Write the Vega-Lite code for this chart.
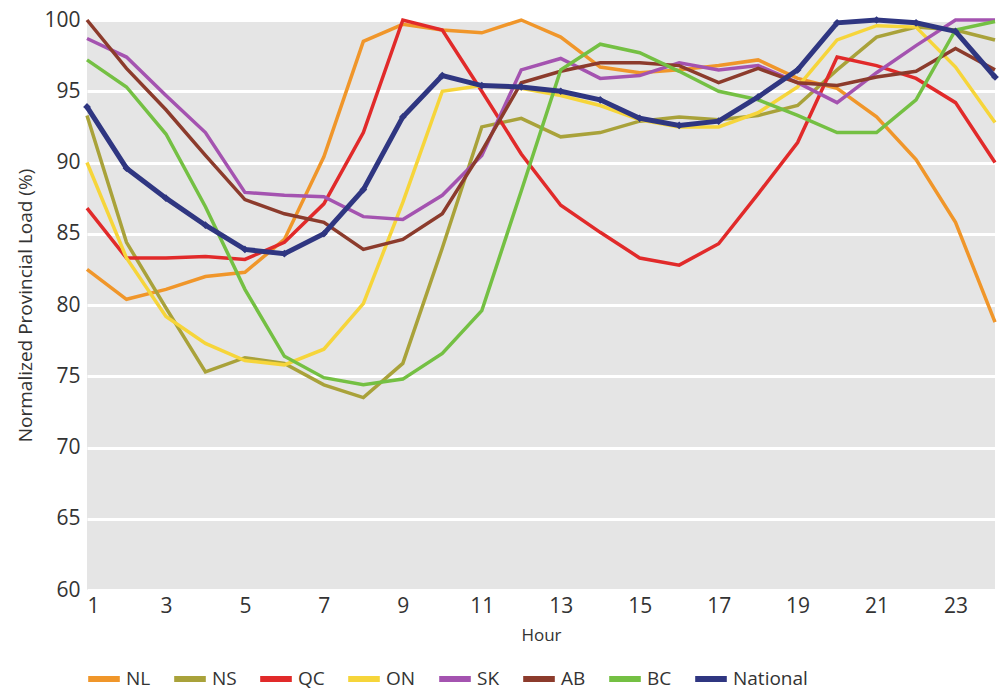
{
  "$schema": "https://vega.github.io/schema/vega-lite/v6.json",
  "width": 908,
  "height": 570,
  "autosize": {"type": "none"},
  "padding": {"left": 87, "top": 20, "right": 4, "bottom": 103},
  "background": "white",
  "config": {"view": {"fill": "#e5e5e5", "stroke": null}, "font": "Open Sans"},
  "datasets": {
    "loads": [
      {"hour":1,"region":"NL","load":82.5},{"hour":2,"region":"NL","load":80.4},{"hour":3,"region":"NL","load":81.1},{"hour":4,"region":"NL","load":82.0},{"hour":5,"region":"NL","load":82.3},{"hour":6,"region":"NL","load":84.6},{"hour":7,"region":"NL","load":90.4},{"hour":8,"region":"NL","load":98.5},{"hour":9,"region":"NL","load":99.7},{"hour":10,"region":"NL","load":99.3},{"hour":11,"region":"NL","load":99.1},{"hour":12,"region":"NL","load":100},{"hour":13,"region":"NL","load":98.8},{"hour":14,"region":"NL","load":96.7},{"hour":15,"region":"NL","load":96.3},{"hour":16,"region":"NL","load":96.5},{"hour":17,"region":"NL","load":96.8},{"hour":18,"region":"NL","load":97.2},{"hour":19,"region":"NL","load":95.9},{"hour":20,"region":"NL","load":95.2},{"hour":21,"region":"NL","load":93.2},{"hour":22,"region":"NL","load":90.2},{"hour":23,"region":"NL","load":85.8},{"hour":24,"region":"NL","load":78.8},
      {"hour":1,"region":"NS","load":93.3},{"hour":2,"region":"NS","load":84.4},{"hour":3,"region":"NS","load":79.8},{"hour":4,"region":"NS","load":75.3},{"hour":5,"region":"NS","load":76.3},{"hour":6,"region":"NS","load":75.9},{"hour":7,"region":"NS","load":74.4},{"hour":8,"region":"NS","load":73.5},{"hour":9,"region":"NS","load":75.9},{"hour":10,"region":"NS","load":84.0},{"hour":11,"region":"NS","load":92.5},{"hour":12,"region":"NS","load":93.1},{"hour":13,"region":"NS","load":91.8},{"hour":14,"region":"NS","load":92.1},{"hour":15,"region":"NS","load":92.9},{"hour":16,"region":"NS","load":93.2},{"hour":17,"region":"NS","load":93.0},{"hour":18,"region":"NS","load":93.3},{"hour":19,"region":"NS","load":94.0},{"hour":20,"region":"NS","load":96.5},{"hour":21,"region":"NS","load":98.8},{"hour":22,"region":"NS","load":99.5},{"hour":23,"region":"NS","load":99.3},{"hour":24,"region":"NS","load":98.6},
      {"hour":1,"region":"QC","load":86.8},{"hour":2,"region":"QC","load":83.3},{"hour":3,"region":"QC","load":83.3},{"hour":4,"region":"QC","load":83.4},{"hour":5,"region":"QC","load":83.2},{"hour":6,"region":"QC","load":84.4},{"hour":7,"region":"QC","load":87.1},{"hour":8,"region":"QC","load":92.1},{"hour":9,"region":"QC","load":100},{"hour":10,"region":"QC","load":99.3},{"hour":11,"region":"QC","load":95.0},{"hour":12,"region":"QC","load":90.6},{"hour":13,"region":"QC","load":87.0},{"hour":14,"region":"QC","load":85.1},{"hour":15,"region":"QC","load":83.3},{"hour":16,"region":"QC","load":82.8},{"hour":17,"region":"QC","load":84.3},{"hour":18,"region":"QC","load":87.8},{"hour":19,"region":"QC","load":91.4},{"hour":20,"region":"QC","load":97.4},{"hour":21,"region":"QC","load":96.8},{"hour":22,"region":"QC","load":95.9},{"hour":23,"region":"QC","load":94.2},{"hour":24,"region":"QC","load":90.0},
      {"hour":1,"region":"ON","load":90.0},{"hour":2,"region":"ON","load":83.3},{"hour":3,"region":"ON","load":79.2},{"hour":4,"region":"ON","load":77.3},{"hour":5,"region":"ON","load":76.1},{"hour":6,"region":"ON","load":75.8},{"hour":7,"region":"ON","load":76.9},{"hour":8,"region":"ON","load":80.1},{"hour":9,"region":"ON","load":87.2},{"hour":10,"region":"ON","load":95.0},{"hour":11,"region":"ON","load":95.4},{"hour":12,"region":"ON","load":95.2},{"hour":13,"region":"ON","load":94.7},{"hour":14,"region":"ON","load":94.0},{"hour":15,"region":"ON","load":93.0},{"hour":16,"region":"ON","load":92.5},{"hour":17,"region":"ON","load":92.5},{"hour":18,"region":"ON","load":93.5},{"hour":19,"region":"ON","load":95.3},{"hour":20,"region":"ON","load":98.6},{"hour":21,"region":"ON","load":99.6},{"hour":22,"region":"ON","load":99.5},{"hour":23,"region":"ON","load":96.7},{"hour":24,"region":"ON","load":92.8},
      {"hour":1,"region":"SK","load":98.7},{"hour":2,"region":"SK","load":97.4},{"hour":3,"region":"SK","load":94.7},{"hour":4,"region":"SK","load":92.1},{"hour":5,"region":"SK","load":87.9},{"hour":6,"region":"SK","load":87.7},{"hour":7,"region":"SK","load":87.6},{"hour":8,"region":"SK","load":86.2},{"hour":9,"region":"SK","load":86.0},{"hour":10,"region":"SK","load":87.7},{"hour":11,"region":"SK","load":90.5},{"hour":12,"region":"SK","load":96.5},{"hour":13,"region":"SK","load":97.3},{"hour":14,"region":"SK","load":95.9},{"hour":15,"region":"SK","load":96.1},{"hour":16,"region":"SK","load":97.0},{"hour":17,"region":"SK","load":96.5},{"hour":18,"region":"SK","load":96.8},{"hour":19,"region":"SK","load":95.6},{"hour":20,"region":"SK","load":94.2},{"hour":21,"region":"SK","load":96.3},{"hour":22,"region":"SK","load":98.2},{"hour":23,"region":"SK","load":100},{"hour":24,"region":"SK","load":100},
      {"hour":1,"region":"AB","load":100},{"hour":2,"region":"AB","load":96.6},{"hour":3,"region":"AB","load":93.7},{"hour":4,"region":"AB","load":90.5},{"hour":5,"region":"AB","load":87.4},{"hour":6,"region":"AB","load":86.4},{"hour":7,"region":"AB","load":85.8},{"hour":8,"region":"AB","load":83.9},{"hour":9,"region":"AB","load":84.6},{"hour":10,"region":"AB","load":86.4},{"hour":11,"region":"AB","load":90.8},{"hour":12,"region":"AB","load":95.6},{"hour":13,"region":"AB","load":96.4},{"hour":14,"region":"AB","load":97.0},{"hour":15,"region":"AB","load":97.0},{"hour":16,"region":"AB","load":96.8},{"hour":17,"region":"AB","load":95.6},{"hour":18,"region":"AB","load":96.6},{"hour":19,"region":"AB","load":95.6},{"hour":20,"region":"AB","load":95.4},{"hour":21,"region":"AB","load":96.0},{"hour":22,"region":"AB","load":96.4},{"hour":23,"region":"AB","load":98.0},{"hour":24,"region":"AB","load":96.5},
      {"hour":1,"region":"BC","load":97.2},{"hour":2,"region":"BC","load":95.3},{"hour":3,"region":"BC","load":92.0},{"hour":4,"region":"BC","load":86.9},{"hour":5,"region":"BC","load":81.1},{"hour":6,"region":"BC","load":76.4},{"hour":7,"region":"BC","load":74.9},{"hour":8,"region":"BC","load":74.4},{"hour":9,"region":"BC","load":74.8},{"hour":10,"region":"BC","load":76.6},{"hour":11,"region":"BC","load":79.6},{"hour":12,"region":"BC","load":88.0},{"hour":13,"region":"BC","load":96.5},{"hour":14,"region":"BC","load":98.3},{"hour":15,"region":"BC","load":97.7},{"hour":16,"region":"BC","load":96.4},{"hour":17,"region":"BC","load":95.0},{"hour":18,"region":"BC","load":94.4},{"hour":19,"region":"BC","load":93.3},{"hour":20,"region":"BC","load":92.1},{"hour":21,"region":"BC","load":92.1},{"hour":22,"region":"BC","load":94.4},{"hour":23,"region":"BC","load":99.3},{"hour":24,"region":"BC","load":99.9},
      {"hour":1,"region":"National","load":93.9},{"hour":2,"region":"National","load":89.6},{"hour":3,"region":"National","load":87.5},{"hour":4,"region":"National","load":85.6},{"hour":5,"region":"National","load":83.9},{"hour":6,"region":"National","load":83.6},{"hour":7,"region":"National","load":85.0},{"hour":8,"region":"National","load":88.1},{"hour":9,"region":"National","load":93.2},{"hour":10,"region":"National","load":96.1},{"hour":11,"region":"National","load":95.4},{"hour":12,"region":"National","load":95.3},{"hour":13,"region":"National","load":95.0},{"hour":14,"region":"National","load":94.4},{"hour":15,"region":"National","load":93.1},{"hour":16,"region":"National","load":92.6},{"hour":17,"region":"National","load":92.9},{"hour":18,"region":"National","load":94.6},{"hour":19,"region":"National","load":96.5},{"hour":20,"region":"National","load":99.8},{"hour":21,"region":"National","load":100},{"hour":22,"region":"National","load":99.8},{"hour":23,"region":"National","load":99.2},{"hour":24,"region":"National","load":96.0}
    ]
  },
  "data": {"name": "loads"},
  "encoding": {
    "x": {
      "field": "hour", "type": "quantitative",
      "scale": {"domain": [1, 24], "nice": false, "zero": false},
      "axis": {
        "values": [1, 3, 5, 7, 9, 11, 13, 15, 17, 19, 21, 23],
        "title": "Hour", "grid": false, "ticks": false, "domain": false,
        "labelFontSize": 21, "labelColor": "#333333", "labelPadding": 5,
        "titleFontSize": 17, "titleFontWeight": "normal", "titleColor": "#333333", "titlePadding": 11
      }
    },
    "y": {
      "field": "load", "type": "quantitative",
      "scale": {"domain": [60, 100], "nice": false, "zero": false},
      "axis": {
        "values": [60, 65, 70, 75, 80, 85, 90, 95, 100],
        "title": "Normalized Provincial Load (%)",
        "grid": true, "gridColor": "#ffffff", "gridWidth": 3,
        "ticks": false, "domain": false,
        "labelFontSize": 21, "labelColor": "#333333", "labelPadding": 7,
        "titleFontSize": 19, "titleFontWeight": "normal", "titleColor": "#333333", "titlePadding": 8
      }
    },
    "color": {
      "field": "region", "type": "nominal",
      "scale": {
        "domain": ["NL", "NS", "QC", "ON", "SK", "AB", "BC", "National"],
        "range": ["#f0962a", "#a9a23a", "#e12a2a", "#f6d53a", "#a453b0", "#8c3b2c", "#74c043", "#2f3681"]
      },
      "legend": {
        "title": null, "orient": "none", "legendX": -2, "legendY": 640,
        "direction": "horizontal", "symbolType": "stroke", "symbolSize": 1000,
        "symbolStrokeWidth": 6, "labelFontSize": 19, "labelColor": "#333333",
        "columnPadding": 11, "labelOffset": 3
      }
    }
  },
  "layer": [
    {
      "transform": [{"filter": "datum.region !== 'National'"}],
      "mark": {"type": "line", "strokeWidth": 3.5}
    },
    {
      "transform": [{"filter": "datum.region === 'National'"}],
      "mark": {"type": "line", "strokeWidth": 5}
    },
    {
      "transform": [{"filter": "datum.region === 'National'"}],
      "mark": {"type": "point", "shape": "diamond", "filled": true, "size": 60, "opacity": 1}
    }
  ]
}
